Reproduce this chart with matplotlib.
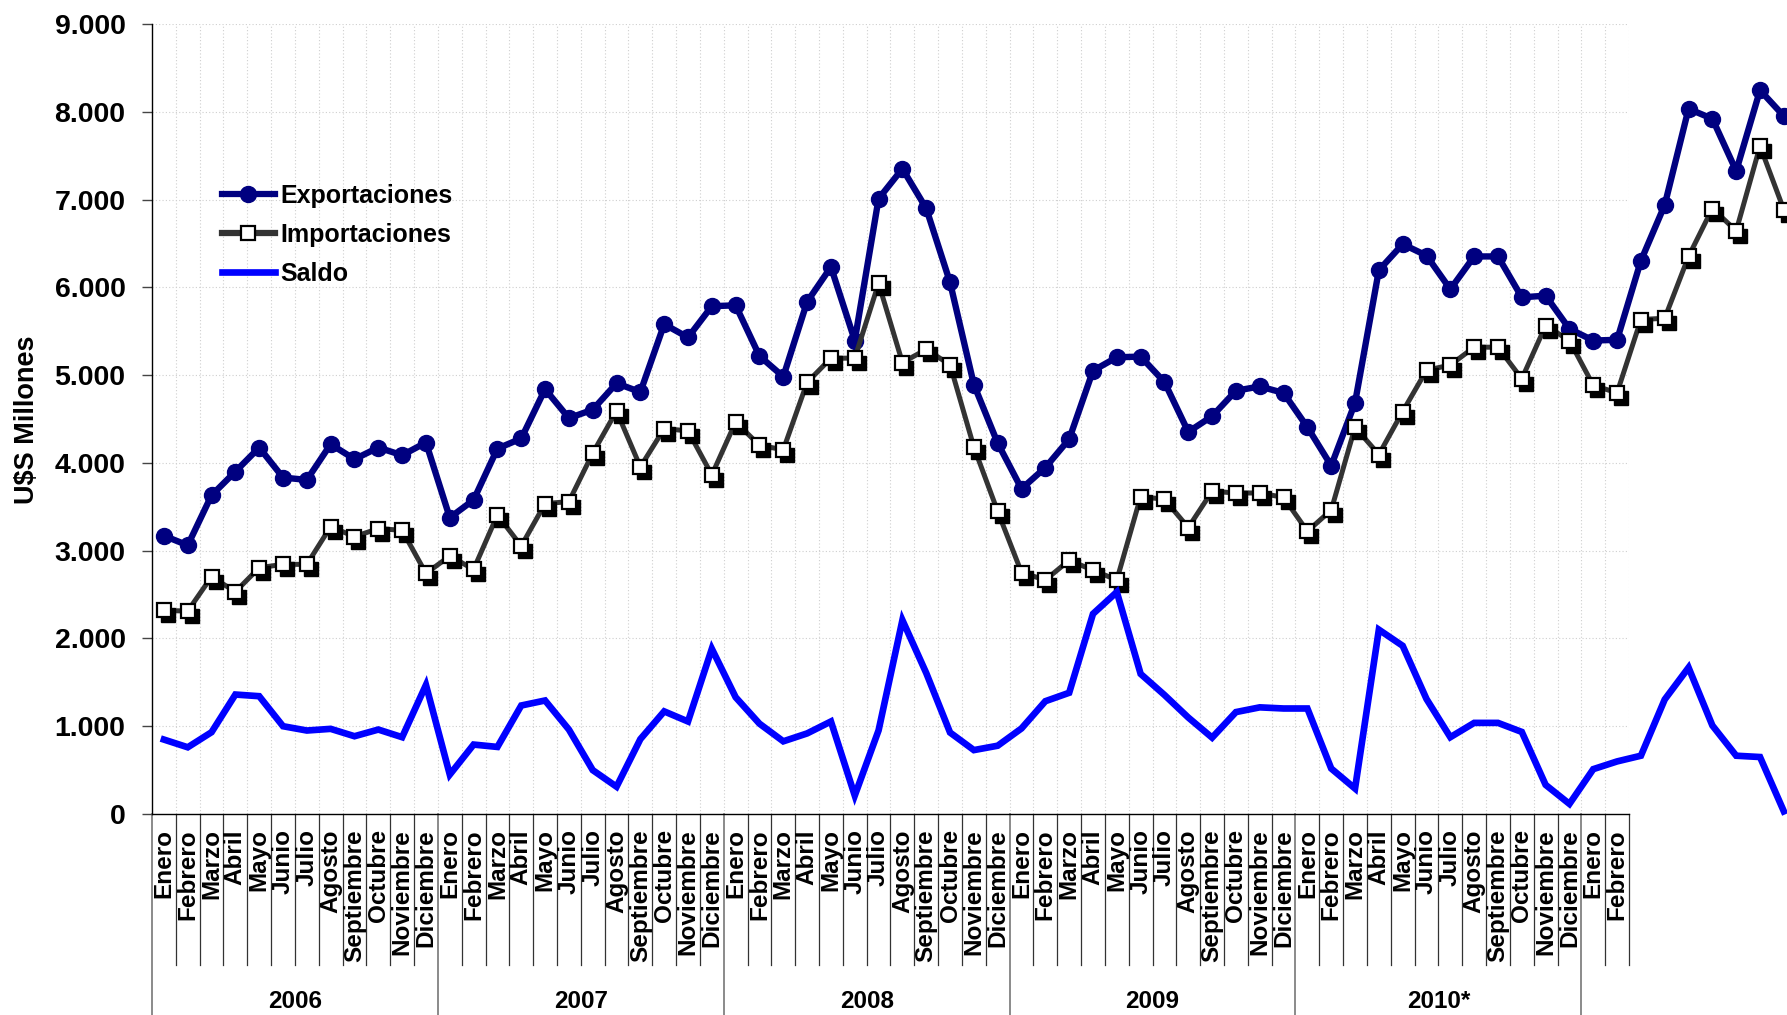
import matplotlib
matplotlib.use("Agg")
import matplotlib.pyplot as plt
from matplotlib.lines import Line2D
from matplotlib.transforms import offset_copy
import matplotlib.ticker as mticker

plt.rcParams["font.family"] = ["Liberation Sans", "DejaVu Sans"]
plt.rcParams["font.weight"] = "bold"

# monthly values, Jan-2006 .. Sep-2011 (U$S millones)
exportaciones = [
    3170, 3061, 3631, 3901, 4175, 3833, 3806, 4213, 4042, 4175, 4087, 4232,
    3376, 3578, 4163, 4278, 4840, 4510, 4606, 4907, 4807, 5580, 5429, 5785,
    5795, 5218, 4982, 5835, 6232, 5394, 7010, 7351, 6899, 6056, 4892, 4225,
    3705, 3947, 4270, 5050, 5203, 5211, 4921, 4353, 4532, 4822, 4871, 4797,
    4407, 3968, 4685, 6195, 6492, 6362, 5978, 6352, 6352, 5886, 5905, 5527,
    5394, 5402, 6303, 6939, 8034, 7920, 7326, 8246, 7951,
]
importaciones = [
    2319, 2312, 2703, 2532, 2806, 2844, 2844, 3274, 3160, 3251, 3232, 2741,
    2939, 2787, 3407, 3053, 3536, 3559, 4110, 4591, 3954, 4390, 4365, 3863,
    4466, 4200, 4150, 4917, 5193, 5193, 6046, 5143, 5293, 5118, 4180, 3447,
    2751, 2666, 2890, 2778, 2666, 3615, 3586, 3263, 3677, 3657, 3657, 3607,
    3221, 3462, 4407, 4095, 4585, 5055, 5115, 5318, 5318, 4958, 5564, 5394,
    4883, 4799, 5633, 5648, 6352, 6898, 6644, 7610, 6883,
]
saldo = [
    848, 760, 932, 1361, 1342, 1000, 951, 970, 886, 962, 875, 1470,
    449, 791, 764, 1236, 1293, 962, 500, 311, 853, 1169, 1054, 1882,
    1330, 1029, 828, 918, 1054, 210, 953, 2208, 1606, 928, 728, 778,
    975, 1285, 1381, 2280, 2529, 1596, 1356, 1099, 870, 1161, 1215, 1202,
    1202, 518, 290, 2100, 1916, 1310, 875, 1038, 1038, 935, 332, 115,
    511, 599, 664, 1305, 1668, 1008, 664, 649, 30,
]

meses = ["Enero", "Febrero", "Marzo", "Abril", "Mayo", "Junio", "Julio",
         "Agosto", "Septiembre", "Octubre", "Noviembre", "Diciembre"]
mes_labels = meses * 5 + ["Enero", "Febrero"]
anios = ["2006", "2007", "2008", "2009", "2010*"]

W, H, DPI = 1787, 1015, 100
fig = plt.figure(figsize=(W / DPI, H / DPI), dpi=DPI)
ax_l, ax_r, ax_t, ax_b = 152, 1629, 24, 814
ax = fig.add_axes([ax_l / W, 1 - ax_b / H, (ax_r - ax_l) / W, (ax_b - ax_t) / H])

n_cat = len(mes_labels)
x = [i + 0.5 for i in range(len(exportaciones))]

ax.set_xlim(0, n_cat)
ax.set_ylim(0, 9000)

# grid
for k in range(1, n_cat + 1):
    ax.axvline(k, color="#cfcfcf", lw=0.8, ls=(0, (1, 2)), zorder=0)
for v in range(1000, 10000, 1000):
    ax.axhline(v, color="#cfcfcf", lw=0.8, ls=(0, (1, 2)), zorder=0)

# series
ax.plot(x, exportaciones, color="#000080", lw=4.6, marker="o", ms=11.5,
        mfc="#000080", mec="#000080", clip_on=False, zorder=3)
ax.plot(x, importaciones, color="#333333", lw=3.6, clip_on=False, zorder=4)
shadow = offset_copy(ax.transData, fig=fig, x=4, y=-5, units="dots")
ax.plot(x, importaciones, ls="none", marker="s", ms=10.5, mfc="black",
        mec="black", transform=shadow, clip_on=False, zorder=5)
ax.plot(x, importaciones, ls="none", marker="s", ms=10.5, mfc="white",
        mec="black", mew=1.6, clip_on=False, zorder=6)
ax.plot(x, saldo, color="#0000FF", lw=4.8, clip_on=False, zorder=7,
        solid_joinstyle="miter")

# axes styling
for s in ["top", "right"]:
    ax.spines[s].set_visible(False)
ax.spines["left"].set_color("black")
ax.spines["bottom"].set_color("black")
ax.spines["left"].set_linewidth(1)
ax.spines["bottom"].set_linewidth(1)
ax.set_xticks([])
ax.set_yticks(range(0, 10000, 1000))
ax.yaxis.set_major_formatter(mticker.FuncFormatter(
    lambda v, p: f"{v:,.0f}".replace(",", ".")))
ax.tick_params(axis="y", direction="out", length=7, width=1, color="#444444",
               pad=12, labelsize=20.5)
for t in ax.get_yticklabels():
    t.set_fontweight("bold")

fig.text(27 / W, 1 - 420 / H, "U$S Millones", rotation=90, ha="center",
         va="center", fontsize=19.5, fontweight="bold")

# category axis: months and years
xt = ax.get_xaxis_transform()
for i, lab in enumerate(mes_labels):
    ax.annotate(lab, xy=(i + 0.5, 0), xycoords=xt, xytext=(0, -11),
                textcoords="offset points", rotation=90, ha="center",
                va="top", fontsize=17.5, fontweight="bold")
month_bottom = -(965 - ax_b) / (ax_b - ax_t)
year_bottom = -(H + 5 - ax_b) / (ax_b - ax_t)
for k in range(n_cat + 1):
    if k % 12 == 0:
        ax.plot([k, k], [0, year_bottom], transform=xt, color="#777777",
                lw=1.2, clip_on=False)
    else:
        ax.plot([k, k], [0, month_bottom], transform=xt, color="#333333",
                lw=0.9, clip_on=False)
year_y = -(1002 - ax_b) / (ax_b - ax_t)
for j, a in enumerate(anios):
    ax.text(12 * j + 6, year_y, a, transform=xt, ha="center", va="center",
            fontsize=17.5, fontweight="bold")

# legend
handles = [
    Line2D([], [], color="#000080", lw=4.5, marker="o", ms=11.5,
           mfc="#000080", mec="#000080"),
    Line2D([], [], color="#333333", lw=4.5, marker="s", ms=10.5,
           mfc="white", mec="black", mew=1.6),
    Line2D([], [], color="#0000FF", lw=4.8),
]
leg = fig.legend(handles, ["Exportaciones", "Importaciones", "Saldo"],
                 loc="upper left", bbox_to_anchor=(222 / W, 1 - 184 / H),
                 frameon=False, borderpad=0, borderaxespad=0,
                 handlelength=2.1, handletextpad=0.25, labelspacing=0.6,
                 prop={"size": 18, "weight": "bold"})

fig.savefig("out.png", dpi=DPI)
